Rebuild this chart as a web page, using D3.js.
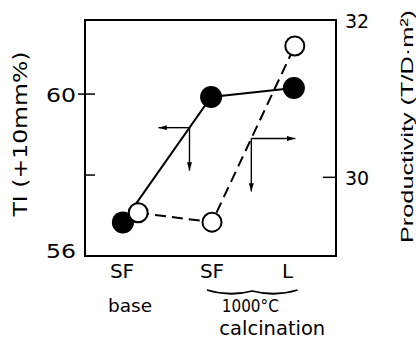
<!DOCTYPE html>
<html>
<head>
<meta charset="utf-8">
<script src="https://cdn.jsdelivr.net/npm/d3@7"></script>
<style>
  html, body { margin: 0; padding: 0; background: #fff; }
  svg { display: block; }
  text { fill: #000; }
</style>
</head>
<body>
<svg id="chart" width="416" height="351"></svg>
<script>
// ---- data ----
const categories = ["SF", "SF", "L"];
const categoryPos = [0, 1, 1.84];
const groupLabels = ["base", "1000°C", "calcination"];

// TI (+10mm%) – filled circles, solid line, left axis
const tiX = [0.01, 0.99, 1.91];
const tiValues = [56.83, 59.93, 60.15];

// Productivity (T/D·m²) – open circles, dashed line, right axis
const prodX = [0.18, 1.0, 1.92];
const prodValues = [29.55, 29.43, 31.67];

const leftTicks = [56, 58, 60];
const leftTickLabels = ["56", "", "60"];
const rightTicks = [30, 32];
const rightTickLabels = ["30", "32"];

// ---- layout ----
const svg = d3.select("#chart");
const frame = { left: 85, right: 336, top: 20, bottom: 256 };

const x = d3.scaleLinear().domain([0, 2]).range([122, 302]);
const yL = d3.scaleLinear().domain([56, 61.83]).range([frame.bottom, frame.top]);
const yR = d3.scaleLinear().domain([29, 32]).range([frame.bottom, frame.top]);

// frame
svg.append("rect")
  .attr("x", frame.left).attr("y", frame.top)
  .attr("width", frame.right - frame.left).attr("height", frame.bottom - frame.top)
  .attr("fill", "none").attr("stroke", "#000").attr("stroke-width", 2);

// left ticks
leftTicks.forEach((t, i) => {
  if (t === 56) return;
  const outer = leftTickLabels[i] ? 7 : 0;
  svg.append("line")
    .attr("x1", frame.left - outer).attr("x2", frame.left + 10)
    .attr("y1", yL(t)).attr("y2", yL(t))
    .attr("stroke", "#000").attr("stroke-width", 1.5);
});
leftTicks.forEach((t, i) => {
  if (!leftTickLabels[i]) return;
  svg.append("text")
    .attr("x", 76).attr("y", yL(t) + (t === 56 ? 2 : 8))
    .attr("text-anchor", "end")
    .attr("font-family", "DejaVu Sans").attr("font-size", 19)
    .attr("textLength", 30).attr("lengthAdjust", "spacingAndGlyphs")
    .text(leftTickLabels[i]);
});

// right ticks
rightTicks.forEach((t, i) => {
  if (t !== 32) {
    svg.append("line")
      .attr("x1", frame.right - 13).attr("x2", frame.right)
      .attr("y1", yR(t)).attr("y2", yR(t))
      .attr("stroke", "#000").attr("stroke-width", 1.5);
  }
  svg.append("text")
    .attr("x", 345).attr("y", yR(t) + 7.5)
    .attr("text-anchor", "start")
    .attr("font-family", "DejaVu Sans").attr("font-size", 19)
    .text(rightTickLabels[i]);
});

// axis titles
svg.append("text")
  .attr("transform", "translate(27,134) rotate(-90)")
  .attr("text-anchor", "middle")
  .attr("font-family", "DejaVu Sans").attr("font-size", 19)
  .attr("textLength", 165).attr("lengthAdjust", "spacingAndGlyphs")
  .text("TI (+10mm%)");

svg.append("text")
  .attr("transform", "translate(413,126.5) rotate(-90)")
  .attr("text-anchor", "middle")
  .attr("font-family", "Liberation Sans").attr("font-size", 17)
  .attr("textLength", 233).attr("lengthAdjust", "spacingAndGlyphs")
  .text("Productivity (T/D·m²)");

// category labels
categories.forEach((c, i) => {
  svg.append("text")
    .attr("x", x(categoryPos[i])).attr("y", 278)
    .attr("text-anchor", "middle")
    .attr("font-family", "DejaVu Sans").attr("font-size", 20)
    .text(c);
});

// brace under calcination categories
const bx0 = x(categoryPos[1]) - 5, bx1 = x(categoryPos[2]) + 10, bm = (bx0 + bx1) / 2;
const by = 290;
const bp = d3.path();
bp.moveTo(bx0, by);
bp.quadraticCurveTo((bx0 + bm) / 2, by + 7, bm, by + 1);
bp.quadraticCurveTo((bm + bx1) / 2, by + 7, bx1, by);
svg.append("path").attr("d", bp.toString())
  .attr("fill", "none").attr("stroke", "#000").attr("stroke-width", 1.8);

// group labels
svg.append("text")
  .attr("x", x(categoryPos[0]) + 8).attr("y", 312)
  .attr("text-anchor", "middle")
  .attr("font-family", "DejaVu Sans").attr("font-size", 18.5)
  .text(groupLabels[0]);
svg.append("text")
  .attr("x", bm - 2).attr("y", 312)
  .attr("text-anchor", "middle")
  .attr("font-family", "DejaVu Sans").attr("font-size", 18)
  .attr("textLength", 57).attr("lengthAdjust", "spacingAndGlyphs")
  .text(groupLabels[1]);
svg.append("text")
  .attr("x", bm + 20).attr("y", 335)
  .attr("text-anchor", "middle")
  .attr("font-family", "DejaVu Sans").attr("font-size", 19.5)
  .text(groupLabels[2]);

// series lines
const tiPts = tiX.map((v, i) => [x(v), yL(tiValues[i])]);
const prodPts = prodX.map((v, i) => [x(v), yR(prodValues[i])]);
const line = d3.line();

svg.append("path").attr("d", line(prodPts))
  .attr("fill", "none").attr("stroke", "#000").attr("stroke-width", 2)
  .attr("stroke-dasharray", "11,6");
svg.append("path").attr("d", line(tiPts))
  .attr("fill", "none").attr("stroke", "#000").attr("stroke-width", 2);

// axis-indicator arrows
const defs = svg.append("defs");
defs.append("marker")
  .attr("id", "ah").attr("viewBox", "0 0 10 6")
  .attr("refX", 10).attr("refY", 3)
  .attr("markerWidth", 10).attr("markerHeight", 5)
  .attr("markerUnits", "userSpaceOnUse")
  .attr("orient", "auto")
  .append("path").attr("d", "M0,0 L10,3 L0,6 Z").attr("fill", "#000");

function along(pts, seg, t) {
  const a = pts[seg], b = pts[seg + 1];
  return [a[0] + (b[0] - a[0]) * t, a[1] + (b[1] - a[1]) * t];
}
function arrow(p, dx, dy) {
  svg.append("line")
    .attr("x1", p[0]).attr("y1", p[1])
    .attr("x2", p[0] + dx).attr("y2", p[1] + dy)
    .attr("stroke", "#000").attr("stroke-width", 1.4)
    .attr("marker-end", "url(#ah)");
}
const pA = along(tiPts, 0, 0.755);
arrow(pA, -31, 0);
arrow(pA, 0, 43);
const pB = along(prodPts, 1, 0.475);
arrow(pB, 44, 0);
arrow(pB, 0, 53);

// markers
svg.selectAll(".ti").data(tiPts).join("circle")
  .attr("cx", d => d[0]).attr("cy", d => d[1]).attr("r", 11)
  .attr("fill", "#000");
svg.selectAll(".prod").data(prodPts).join("circle")
  .attr("cx", d => d[0]).attr("cy", d => d[1]).attr("r", 9.5)
  .attr("fill", "#fff").attr("stroke", "#000").attr("stroke-width", 2);
</script>
</body>
</html>
